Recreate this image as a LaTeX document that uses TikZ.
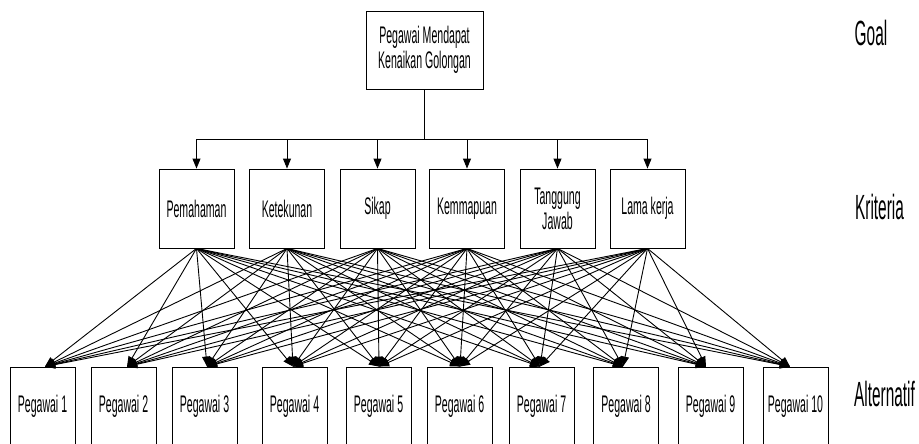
\documentclass[tikz,border=0pt]{standalone}
\usepackage{fontspec}
\newfontfamily\narrowfont[FakeStretch=0.44]{Liberation Sans}
\usetikzlibrary{arrows.meta,calc}
\begin{document}
\begin{tikzpicture}[x=1pt,y=-1pt,
  font=\narrowfont\fontsize{24}{25}\selectfont,
  box/.style={draw,line width=0.9pt,inner sep=0pt,align=center},
  goalbox/.style={box,minimum width=117pt,minimum height=78pt},
  critbox/.style={box,minimum width=75pt,minimum height=79pt},
  altbox/.style={box,minimum width=65pt,minimum height=79pt},
  levellabel/.style={anchor=base,inner sep=0pt,font=\narrowfont\fontsize{35}{38}\selectfont},
  conn/.style={line width=0.9pt},
  arr/.style={line width=0.9pt,-{Triangle[length=10pt,width=8pt]}}]
\clip (0,0) rectangle (919,444);
\fill[white] (0,0) rectangle (919,444);
% goal
\node[goalbox] (goal) at (424.5,50) {Pegawai Mendapat\\Kenaikan Golongan};
% criteria
\node[critbox] (c1) at (196.5,208.5) {Pemahaman};
\node[critbox] (c2) at (287,208.5) {Ketekunan};
\node[critbox] (c3) at (377.5,208.5) {Sikap};
\node[critbox] (c4) at (467,208.5) {Kemmapuan};
\node[critbox] (c5) at (557.5,208.5) {Tanggung\\Jawab};
\node[critbox] (c6) at (647.5,208.5) {Lama kerja};
% alternatives
\node[altbox] (p1) at (42.5,406.5) {Pegawai 1};
\node[altbox] (p2) at (123.5,406.5) {Pegawai 2};
\node[altbox] (p3) at (204.5,406.5) {Pegawai 3};
\node[altbox] (p4) at (294.5,406.5) {Pegawai 4};
\node[altbox] (p5) at (378.5,406.5) {Pegawai 5};
\node[altbox] (p6) at (459.5,406.5) {Pegawai 6};
\node[altbox] (p7) at (541.5,406.5) {Pegawai 7};
\node[altbox] (p8) at (626,406.5) {Pegawai 8};
\node[altbox] (p9) at (710.5,406.5) {Pegawai 9};
\node[altbox] (p10) at (795.5,406.5) {Pegawai 10};
% level labels
\node[levellabel] (lgoal) at (871,46) {Goal};
\node[levellabel] (lkrit) at (879.5,219) {Kriteria};
\node[levellabel] (lalt) at (884.5,406) {Alternatif};
% bus from goal to criteria
\coordinate (bus) at (424.5,139);
\draw[conn] (goal.south) -- (goal.south |- bus);
\draw[conn] (c1.north |- bus) -- (c6.north |- bus);
\foreach \c in {1,...,6}{
  \draw[arr] (c\c.north |- bus) -- (c\c.north);
}
% arrow tip points on alternatives
\foreach \i/\dx in {1/2.5,2/3.5,3/2.5,4/-1.5,5/0.5,6/0.5,7/-1.5,8/-3,9/-4.5,10/-5.5}{
  \coordinate (t\i) at ([xshift=\dx pt]p\i.north);
}
\foreach \c in {1,...,6}{
  \foreach \i in {1,...,10}{
    \draw[arr] (c\c.south) -- (t\i);
  }
}
\end{tikzpicture}
\end{document}
